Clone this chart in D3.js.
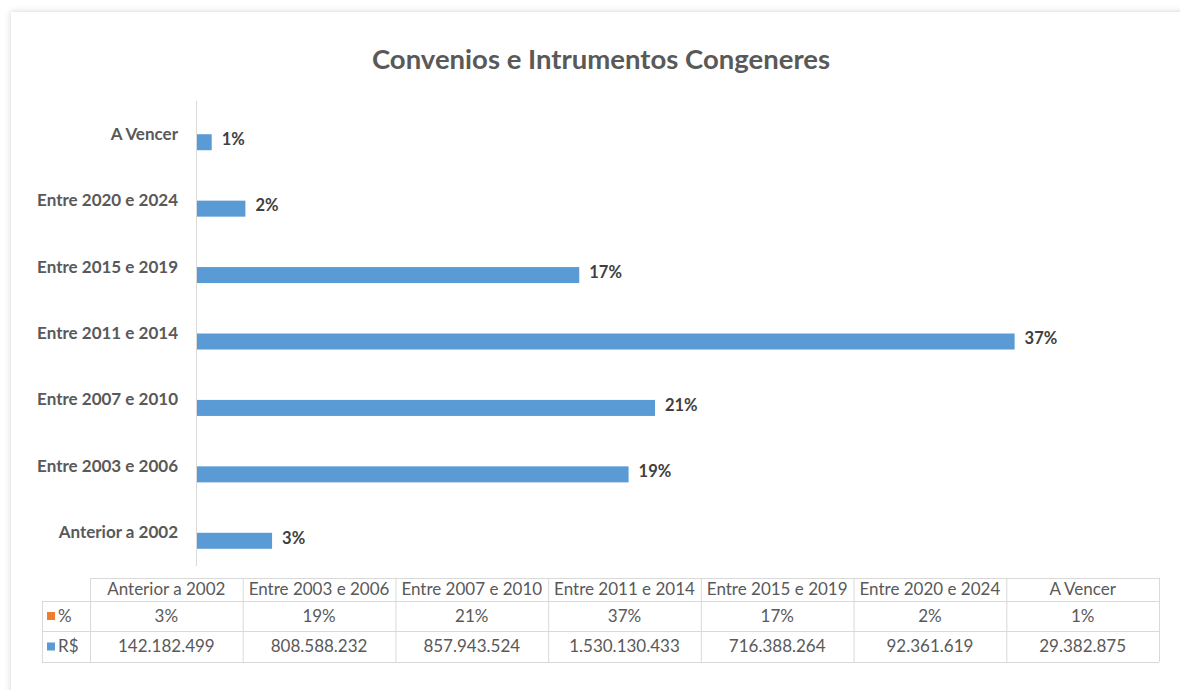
<!DOCTYPE html>
<html lang="pt">
<head>
<meta charset="utf-8">
<title>Convenios e Intrumentos Congeneres</title>
<script src="https://cdn.jsdelivr.net/npm/d3@7"></script>
<style>
    body { margin: 0; background: #fff; font-family: Lato, "Noto Sans", sans-serif; }
    .cat text { fill: #595959; font-size: 17px; font-weight: bold; }
    .lbl { fill: #404040; font-size: 16.5px; font-weight: bold; }
    .tbl text { fill: #595959; font-size: 17px; }
</style>
</head>
<body>
<div id="chart"></div>
<script>
// data
var categories = ["Anterior a 2002", "Entre 2003 e 2006", "Entre 2007 e 2010", "Entre 2011 e 2014",
                  "Entre 2015 e 2019", "Entre 2020 e 2024", "A Vencer"];
var pctValues = [0.03, 0.19, 0.21, 0.37, 0.17, 0.02, 0.01];
var rsValues = [142182499, 808588232, 857943524, 1530130433, 716388264, 92361619, 29382875];
var seriesNames = ["%", "R$"];
var seriesColors = ["#ed7d31", "#5b9bd5"];

var W = 1180, H = 690;
var plot = { left: 196, right: 1052, top: 101, bottom: 566 };

var svg = d3.select("#chart").append("svg")
    .attr("width", W).attr("height", H);

// card with soft shadow
var defs = svg.append("defs");
var f = defs.append("filter").attr("id", "sh").attr("x", "-5%").attr("y", "-5%")
    .attr("width", "110%").attr("height", "110%");
f.append("feDropShadow").attr("dx", 0).attr("dy", 0).attr("stdDeviation", 3)
    .attr("flood-color", "#000").attr("flood-opacity", 0.18);
svg.append("rect").attr("x", 11).attr("y", 12).attr("width", W + 20).attr("height", H + 20)
    .attr("fill", "#fff").attr("filter", "url(#sh)");

svg.append("text")
    .attr("x", 601).attr("y", 69)
    .attr("text-anchor", "middle")
    .style("font-size", "27.5px").style("font-weight", "bold").style("fill", "#595959")
    .text("Convenios e Intrumentos Congeneres");

var x = d3.scaleLinear().domain([0, 1.6e9]).range([plot.left, plot.right]);
// categories run bottom to top
var y = d3.scaleBand().domain(categories).range([plot.bottom, plot.top])
    .paddingInner(0.518).paddingOuter(0.259);
var ySeries = d3.scaleBand().domain(seriesNames).range([0, y.bandwidth()]);

var yAxis = d3.axisLeft(y).tickSize(0).tickPadding(18);
var ag = svg.append("g").attr("class", "cat")
    .attr("transform", "translate(" + plot.left + ",0)")
    .call(yAxis);
ag.select(".domain").remove();
ag.selectAll("text").style("font-family", "Lato, sans-serif");
svg.append("line")
    .attr("x1", plot.left + 0.5).attr("x2", plot.left + 0.5)
    .attr("y1", plot.top).attr("y2", plot.bottom)
    .attr("stroke", "#d9d9d9");

var rows = categories.map(function(c, i) {
    return { cat: c, pct: pctValues[i], rs: rsValues[i] };
});

// % series is on a 0..1 scale, so it vanishes next to the R$ values
var seriesVals = [pctValues, rsValues];
seriesNames.forEach(function(s, si) {
    svg.append("g").selectAll("rect")
        .data(categories)
        .join("rect")
        .attr("x", plot.left + 1)
        .attr("y", function(c) { return y(c) + ySeries(s); })
        .attr("height", ySeries.bandwidth())
        .attr("width", function(c, i) { return Math.max(0, x(seriesVals[si][i]) - plot.left - 1); })
        .attr("fill", seriesColors[si]);
});

var pctFmt = d3.format(".0%");
svg.append("g").selectAll("text")
    .data(rows)
    .join("text")
    .attr("class", "lbl")
    .attr("x", function(d) { return x(d.rs) + 10; })
    .attr("y", function(d) { return y(d.cat) + ySeries("R$") + ySeries.bandwidth() / 2 - 3; })
    .attr("dy", "0.35em")
    .text(function(d) { return pctFmt(d.pct); });

// data table
var tbl = svg.append("g").attr("class", "tbl");
var tLeft = 42, tKey = 90, tRight = 1159;
var rowY = [578, 601, 631, 662];
var col = d3.scaleBand().domain(categories).range([tKey, tRight]);
var grid = "#d9d9d9";

function hline(x1, x2, yy) {
    tbl.append("line").attr("x1", x1).attr("x2", x2).attr("y1", yy + 0.5).attr("y2", yy + 0.5).attr("stroke", grid);
}
function vline(xx, y1, y2) {
    tbl.append("line").attr("x1", xx + 0.5).attr("x2", xx + 0.5).attr("y1", y1).attr("y2", y2).attr("stroke", grid);
}
hline(tKey, tRight, rowY[0]);
hline(tLeft, tRight, rowY[1]);
hline(tLeft, tRight, rowY[2]);
hline(tLeft, tRight, rowY[3]);
vline(tLeft, rowY[1], rowY[3]);
categories.forEach(function(c) { vline(col(c), rowY[0], rowY[3]); });
vline(tRight, rowY[0], rowY[3]);

var numFmt = function(v) { return d3.format(",")(v).replace(/,/g, "."); };
var cellText = [categories, pctValues.map(pctFmt), rsValues.map(numFmt)];
cellText.forEach(function(arr, r) {
    tbl.append("g").selectAll("text")
        .data(arr)
        .join("text")
        .attr("x", function(t, i) { return col(categories[i]) + col.bandwidth() / 2; })
        .attr("y", (rowY[r] + rowY[r + 1]) / 2)
        .attr("dy", "0.35em")
        .attr("text-anchor", "middle")
        .text(function(t) { return t; });
});

seriesNames.forEach(function(s, i) {
    var cy = (rowY[i + 1] + rowY[i + 2]) / 2;
    tbl.append("rect").attr("x", 47).attr("y", cy - 4).attr("width", 8).attr("height", 8)
        .attr("fill", seriesColors[i]);
    tbl.append("text").attr("x", 58).attr("y", cy).attr("dy", "0.35em").text(s);
});
</script>
</body>
</html>
